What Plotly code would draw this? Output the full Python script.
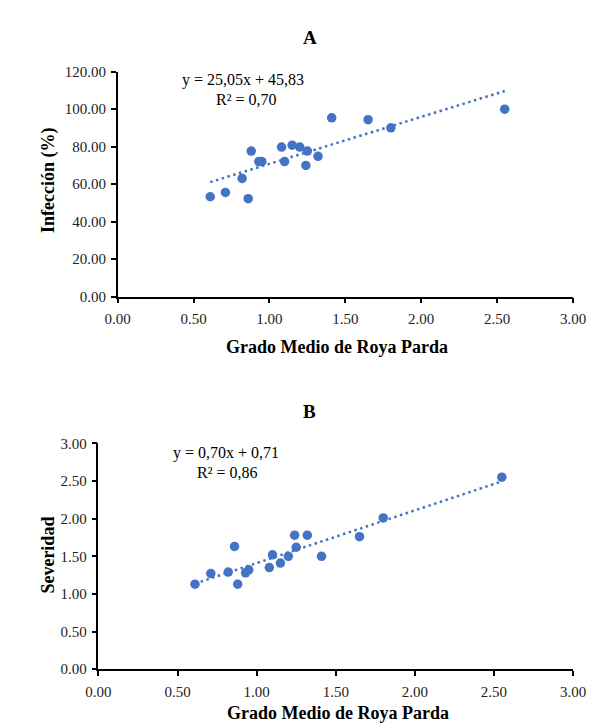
import numpy as np
import plotly.graph_objects as go

# Data
grado_medio = [0.61, 0.71, 0.82, 0.86, 0.88, 0.93, 0.95, 1.08, 1.10, 1.15, 1.20, 1.24, 1.25, 1.32, 1.41, 1.65, 1.80, 2.55]
infeccion = [53.3, 55.6, 63.1, 52.3, 77.7, 72.1, 72.1, 79.8, 72.1, 80.8, 79.8, 70.0, 77.7, 74.9, 95.4, 94.4, 90.1, 100.0]
severidad = [1.13, 1.27, 1.29, 1.63, 1.13, 1.28, 1.32, 1.35, 1.52, 1.41, 1.50, 1.78, 1.62, 1.78, 1.50, 1.76, 2.01, 2.55]

fit_a = (25.05, 45.83)
fit_b = (0.70, 0.71)
eq_a = ["y = 25,05x + 45,83", "R² = 0,70"]
eq_b = ["y = 0,70x + 0,71", "R² = 0,86"]

x_ticks = [0, 0.5, 1, 1.5, 2, 2.5, 3]
y_ticks_a = [0, 20, 40, 60, 80, 100, 120]
y_ticks_b = [0, 0.5, 1, 1.5, 2, 2.5, 3]

BLUE = "#4472C4"
FONT = "Liberation Serif"

fig = go.Figure()

xs = np.array(grado_medio)
xl = np.array([xs.min(), xs.max()])

fig.add_trace(go.Scatter(x=grado_medio, y=infeccion, mode="markers",
                         marker=dict(color=BLUE, size=9.5), xaxis="x", yaxis="y", showlegend=False))
fig.add_trace(go.Scatter(x=xl, y=fit_a[0] * xl + fit_a[1], mode="lines",
                         line=dict(color=BLUE, width=2.5, dash="2.5px,3.5px"), xaxis="x", yaxis="y", showlegend=False))
fig.add_trace(go.Scatter(x=grado_medio, y=severidad, mode="markers",
                         marker=dict(color=BLUE, size=9.5), xaxis="x2", yaxis="y2", showlegend=False))
fig.add_trace(go.Scatter(x=xl, y=fit_b[0] * xl + fit_b[1], mode="lines",
                         line=dict(color=BLUE, width=2.5, dash="2.5px,3.5px"), xaxis="x2", yaxis="y2", showlegend=False))

W, H = 601, 724

def fx(px):
    return px / W

def fy(py):
    return 1 - py / H

axis_common = dict(showline=True, linecolor="black", linewidth=1.5, ticks="outside", ticklen=5,
                   tickwidth=1.5, tickcolor="black", showgrid=False, zeroline=False,
                   tickfont=dict(family=FONT, size=15, color="#222"), tickformat=".2f")

fig.update_layout(
    width=W, height=H, margin=dict(l=0, r=0, t=0, b=0),
    paper_bgcolor="white", plot_bgcolor="white",
    xaxis=dict(domain=[fx(101), fx(577)], range=[0, 3], tickvals=x_ticks, anchor="y",
               ticklabelstandoff=3, **axis_common),
    yaxis=dict(domain=[fy(287), fy(57)], range=[0, 120], tickvals=y_ticks_a, anchor="x",
               ticklabelstandoff=2, **axis_common),
    xaxis2=dict(domain=[fx(81), fx(577)], range=[0, 3], tickvals=x_ticks, anchor="y2",
                ticklabelstandoff=3, **axis_common),
    yaxis2=dict(domain=[fy(668), fy(437)], range=[0, 3], tickvals=y_ticks_b, anchor="x2",
                ticklabelstandoff=2, **axis_common),
)

def ann(text, px, py, size, bold=False, angle=0):
    fig.add_annotation(text=f"<b>{text}</b>" if bold else text, x=fx(px), y=fy(py),
                       xref="paper", yref="paper", showarrow=False, xanchor="center", yanchor="middle",
                       textangle=angle, font=dict(family=FONT, size=size, color="black"))

# Panel titles
ann("A", 302, 22, 19, bold=True)
ann("B", 302, 404, 19, bold=True)
# Axis titles
ann("Grado Medio de Roya Parda", 330, 338, 18, bold=True)
ann("Grado Medio de Roya Parda", 331, 713, 18, bold=True)
ann("Infección (%)", 28, 168, 18, bold=True, angle=-90)
ann("Severidad", 28, 551, 18, bold=True, angle=-90)
# Trendline equations
ann(eq_a[0], 232, 65, 16)
ann(eq_a[1], 236, 85, 16)
ann(eq_b[0], 214, 447, 16)
ann(eq_b[1], 216, 467, 16)

fig.write_html("out.html")
